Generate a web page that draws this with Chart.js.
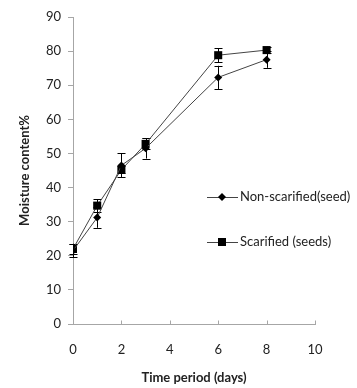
<!DOCTYPE html>
<html>
<head>
<meta charset="utf-8">
<script src="https://cdn.jsdelivr.net/npm/chart.js@4"></script>
<style>
    html, body { margin: 0; padding: 0; background: #fff; }
    #wrap { width: 357px; height: 388px; }
</style>
</head>
<body>
<div id="wrap"><canvas id="moistureChart" width="357" height="388"></canvas></div>
<script>
const days = [0, 1, 2, 3, 6, 8];
const nonScarified = [21.5, 31.2, 46.5, 51.5, 72.3, 77.5];
const nonScarifiedErr = [2, 3, 3.5, 3, 3.4, 2.4];
const scarified = [22, 34.7, 45.2, 52.8, 78.8, 80.3];
const scarifiedErr = [1.5, 1.8, 1, 1.6, 2, 1];
const seriesLabels = ['Non-scarified(seed)', 'Scarified (seeds)'];
const xTicks = [0, 2, 4, 6, 8, 10];
const yTicks = [0, 10, 20, 30, 40, 50, 60, 70, 80, 90];

const fontFamily = 'Lato, "Open Sans", sans-serif';
const textColor = '#222';
const axisColor = '#a6a6a6';

const toPoints = values => values.map((v, i) => ({ x: days[i], y: v }));

const errorBars = {
    id: 'errorBars',
    beforeDatasetsDraw(chart) {
        const { ctx, scales: { x, y } } = chart;
        ctx.save();
        ctx.strokeStyle = '#000';
        ctx.lineWidth = 1;
        chart.data.datasets.forEach(ds => {
            ds.data.forEach((p, i) => {
                const px = Math.round(x.getPixelForValue(p.x)) + 0.5;
                const top = y.getPixelForValue(p.y + ds.errors[i]);
                const bottom = y.getPixelForValue(p.y - ds.errors[i]);
                ctx.beginPath();
                ctx.moveTo(px, top); ctx.lineTo(px, bottom);
                ctx.moveTo(px - 4, Math.round(top) + 0.5); ctx.lineTo(px + 4, Math.round(top) + 0.5);
                ctx.moveTo(px - 4, Math.round(bottom) + 0.5); ctx.lineTo(px + 4, Math.round(bottom) + 0.5);
                ctx.stroke();
            });
        });
        ctx.restore();
    },
    afterDraw(chart) {
        const { ctx, scales: { x } } = chart;
        const axisY = Math.round(chart.chartArea.bottom) + 0.5;
        ctx.save();
        ctx.strokeStyle = axisColor;
        ctx.lineWidth = 1;
        xTicks.forEach(t => {
            const px = Math.round(x.getPixelForValue(t)) + 0.5;
            ctx.beginPath();
            ctx.moveTo(px, axisY); ctx.lineTo(px, axisY - 4);
            ctx.stroke();
        });
        ctx.restore();

        // legend, laid over the right part of the plot
        ctx.save();
        ctx.font = '13px ' + fontFamily;
        ctx.textBaseline = 'middle';
        chart.data.datasets.forEach((ds, i) => {
            const ly = 197 + i * 45;
            ctx.strokeStyle = ds.borderColor;
            ctx.lineWidth = 1;
            ctx.beginPath();
            ctx.moveTo(207, ly + 0.5); ctx.lineTo(238, ly + 0.5);
            ctx.stroke();
            ctx.fillStyle = '#000';
            ctx.beginPath();
            if (ds.pointStyle === 'rect') {
                ctx.rect(218, ly - 4, 8, 8);
            } else {
                ctx.moveTo(222, ly - 4); ctx.lineTo(226, ly); ctx.lineTo(222, ly + 4); ctx.lineTo(218, ly);
                ctx.closePath();
            }
            ctx.fill();
            ctx.fillStyle = textColor;
            ctx.fillText(ds.label, 240, ly);
        });
        ctx.restore();
    }
};

new Chart(document.getElementById('moistureChart'), {
    type: 'line',
    data: {
        datasets: [
            {
                label: seriesLabels[0], data: toPoints(nonScarified), errors: nonScarifiedErr,
                borderColor: '#444', borderWidth: 1, pointStyle: 'rectRot', pointRadius: 4,
                pointBackgroundColor: '#000', pointBorderColor: '#000', pointBorderWidth: 0
            },
            {
                label: seriesLabels[1], data: toPoints(scarified), errors: scarifiedErr,
                borderColor: '#444', borderWidth: 1, pointStyle: 'rect', pointRadius: 5.7,
                pointBackgroundColor: '#000', pointBorderColor: '#000', pointBorderWidth: 0
            }
        ]
    },
    options: {
        responsive: false,
        animation: false,
        layout: { padding: { left: 0, right: 42, top: 17, bottom: 0 } },
        plugins: { legend: { display: false }, tooltip: { enabled: false } },
        scales: {
            x: {
                type: 'linear', min: 0, max: 10,
                afterBuildTicks: scale => { scale.ticks = xTicks.map(v => ({ value: v })); },
                afterFit: scale => { scale.height = 64; },
                border: { color: axisColor, width: 1 },
                grid: { display: true, drawOnChartArea: false, drawTicks: false },
                ticks: { padding: 18, color: textColor, font: { family: fontFamily, size: 13 } },
                title: {
                    display: true, text: 'Time period (days)', color: textColor,
                    font: { family: fontFamily, size: 13, weight: 'bold' }, padding: { top: 4, bottom: 2 }
                }
            },
            y: {
                min: 0, max: 90,
                afterBuildTicks: scale => { scale.ticks = yTicks.map(v => ({ value: v })); },
                afterFit: scale => { scale.width = 73; },
                border: { color: axisColor, width: 1 },
                grid: { display: true, drawOnChartArea: false, drawTicks: true, tickLength: 5, color: axisColor },
                ticks: { padding: 7, color: textColor, font: { family: fontFamily, size: 13 } },
                title: {
                    display: true, text: 'Moisture content%', color: textColor,
                    font: { family: fontFamily, size: 13, weight: 'bold' }, padding: { top: 17, bottom: 0 }
                }
            }
        }
    },
    plugins: [errorBars]
});
</script>
</body>
</html>
